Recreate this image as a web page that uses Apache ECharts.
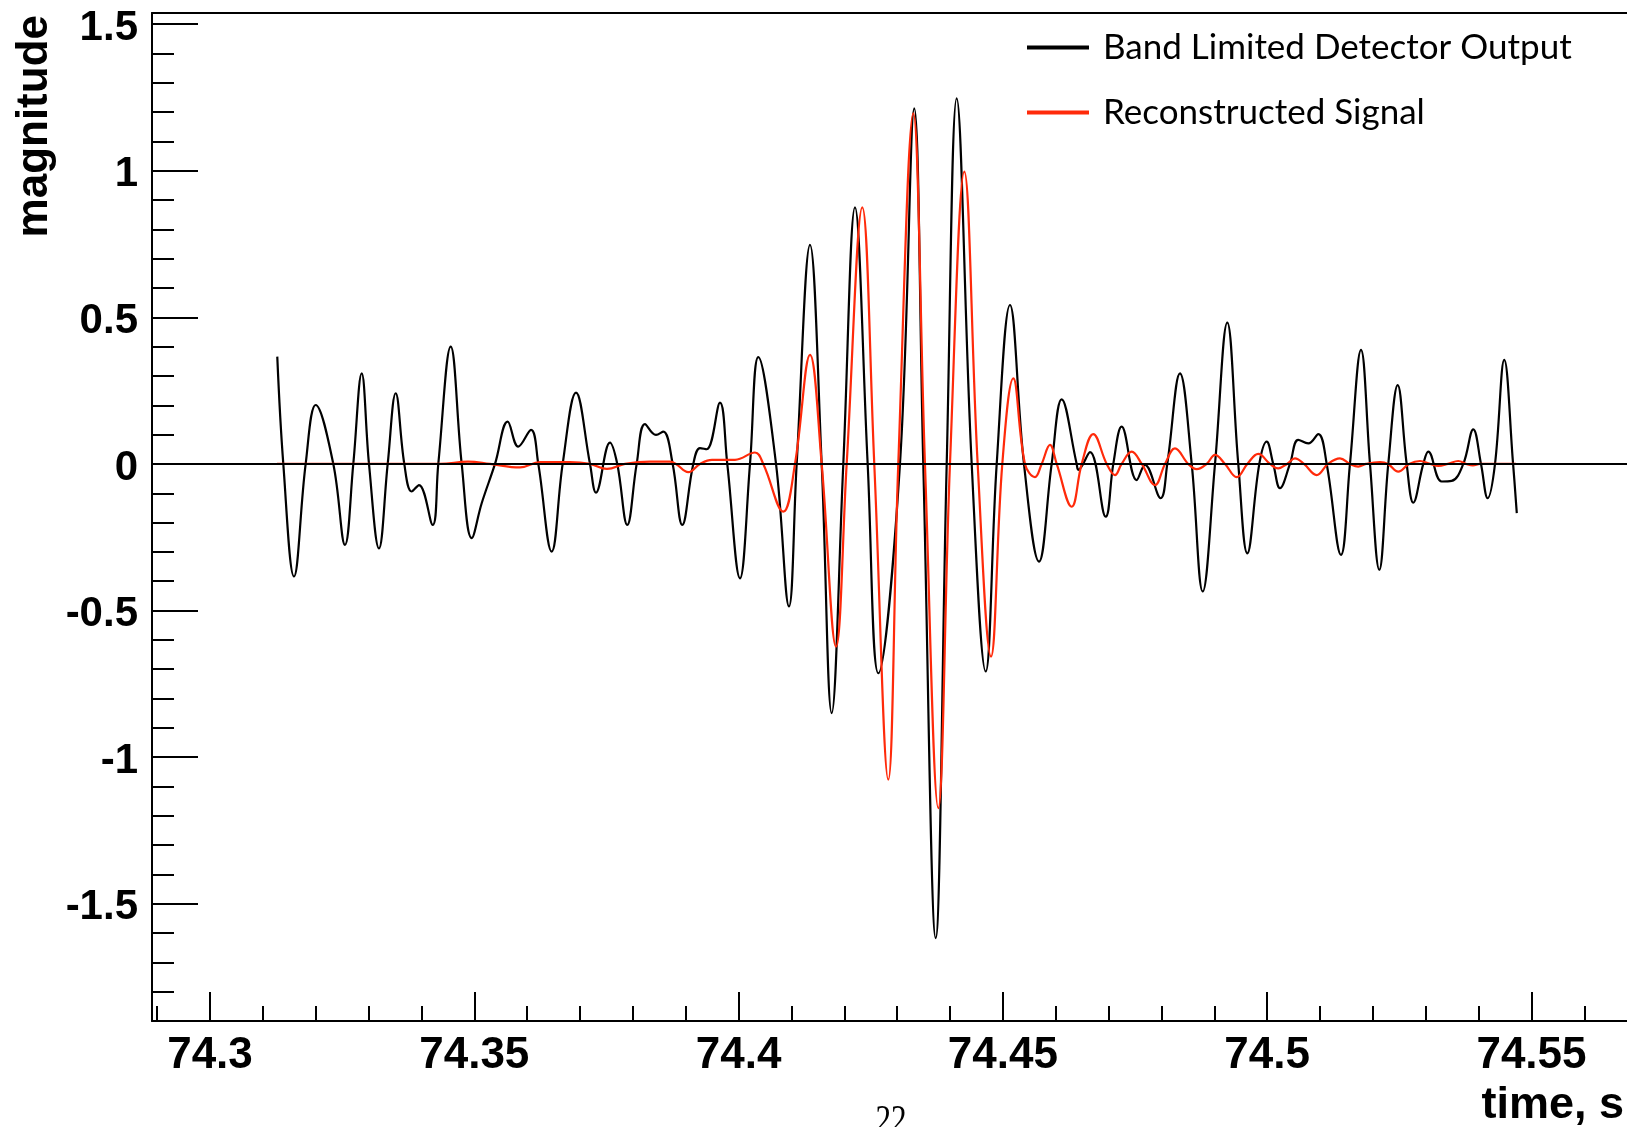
<!DOCTYPE html>
<html><head><meta charset="utf-8">
<script src="https://cdn.jsdelivr.net/npm/echarts@6/dist/echarts.min.js"></script>
<style>html,body{margin:0;padding:0;background:#fff}#c{width:1627px;height:1127px}</style>
</head><body><div id="c"></div>
<script>
// ---- data ----
const seriesNames = ['Band Limited Detector Output', 'Reconstructed Signal'];

const blackTime = [74.31273,74.31387,74.31589,74.31810,74.32000,74.32333,74.32554,74.32711,74.32870,74.33008,
 74.33197,74.33362,74.33513,74.33676,74.33816,74.33954,74.34213,74.34319,74.34554,74.34762,
 74.34951,74.35140,74.35392,74.35632,74.35832,74.36073,74.36211,74.36464,74.36672,74.36924,
 74.37189,74.37302,74.37567,74.37705,74.37894,74.38072,74.38229,74.38437,74.38576,74.38753,
 74.38935,74.39143,74.39270,74.39397,74.39648,74.39786,74.40026,74.40216,74.40373,74.40708,
 74.40953,74.41099,74.41351,74.41572,74.41761,74.41981,74.42202,74.42442,74.42643,74.43053,
 74.43324,74.43494,74.43729,74.43937,74.44126,74.44410,74.44675,74.44883,74.45134,74.45399,
 74.45683,74.45923,74.46112,74.46396,74.46426,74.46648,74.46945,74.47089,74.47247,74.47531,
 74.47688,74.47985,74.48110,74.48350,74.48572,74.48780,74.49013,74.49245,74.49453,74.49624,
 74.49851,74.49991,74.50115,74.50242,74.50431,74.50588,74.50778,74.50967,74.51126,74.51396,
 74.51566,74.51775,74.51945,74.52121,74.52291,74.52469,74.52639,74.52764,74.52953,74.53048,
 74.53301,74.53490,74.53710,74.53899,74.54045,74.54171,74.54310,74.54485,74.54652,74.54722];
const blackValue = [0.366,0,-0.384,0,0.201,0,-0.276,0,0.309,0,
 -0.288,0,0.241,0,-0.094,-0.072,-0.208,0,0.400,0,
 -0.253,-0.134,0,0.144,0.059,0.116,0,-0.299,0,0.243,
 0,-0.098,0.073,0,-0.208,0,0.136,0.099,0.110,0,
 -0.208,0,0.054,0.050,0.209,0,-0.390,0,0.364,0,
 -0.486,0,0.747,0,-0.850,0,0.875,0,-0.714,0,
 1.213,0,-1.617,0,1.247,0,-0.708,0,0.542,0,
 -0.333,0,0.220,0,-0.020,0.040,-0.180,0,0.127,-0.055,
 -0.003,-0.117,0,0.309,0,-0.435,0,0.482,0,-0.305,
 0,0.076,0,-0.083,0,0.082,0.070,0.102,0,-0.310,
 0,0.389,0,-0.361,0,0.269,0,-0.132,0,0.042,
 -0.060,-0.058,0,0.118,0,-0.117,0,0.355,0,-0.168];

const redTime = [74.31268,74.34351,74.34881,74.35297,74.35865,74.36243,74.36811,74.37189,74.37510,74.37851,
 74.38324,74.38702,74.38816,74.39048,74.39270,74.39497,74.39932,74.40310,74.40467,74.40846,
 74.41067,74.41351,74.41572,74.41843,74.42045,74.42340,74.42567,74.42832,74.43021,74.43305,
 74.43526,74.43778,74.43999,74.44270,74.44523,74.44775,74.44989,74.45197,74.45418,74.45607,
 74.45734,74.45891,74.46018,74.46302,74.46491,74.46710,74.46964,74.47121,74.47247,74.47437,
 74.47626,74.47877,74.48067,74.48256,74.48507,74.48666,74.48856,74.49013,74.49202,74.49423,
 74.49624,74.49832,74.50053,74.50210,74.50375,74.50526,74.50696,74.50936,74.51150,74.51377,
 74.51566,74.51723,74.51869,74.52134,74.52285,74.52480,74.52683,74.52891,74.53080,74.53237,
 74.53420,74.53615,74.53766,74.53893,74.54026,74.54707];
const redValue = [0,0,0.008,0,-0.012,0.006,0.006,0,-0.017,0,
 0.008,0.008,0,-0.028,0,0.014,0.014,0.039,0,-0.163,
 0,0.372,0,-0.623,0,0.875,0,-1.077,0,1.196,
 0,-1.174,0,0.997,0,-0.657,0,0.292,0,-0.045,
 0,0.065,0,-0.146,0,0.102,0,-0.038,0,0.042,
 0,-0.072,0,0.053,0,-0.018,0,0.031,0,-0.045,
 0,0.034,0,-0.015,0,0.019,0,-0.038,0,0.019,
 0,-0.009,0,0.006,0,-0.026,0,0.010,0,-0.007,
 0,0.010,0,-0.005,0,0];

// ---- axes ----
const xRange = [74.28903, 74.56807];
const yRange = [-1.9, 1.538];
const xMajorTicks = [74.3, 74.35, 74.4, 74.45, 74.5, 74.55];
const xMinorTicks = [74.29, 74.31, 74.32, 74.33, 74.34, 74.36, 74.37, 74.38, 74.39, 74.41, 74.42, 74.43, 74.44,
  74.46, 74.47, 74.48, 74.49, 74.51, 74.52, 74.53, 74.54, 74.56];
const yMajorTicks = [-1.5, -1, -0.5, 0, 0.5, 1, 1.5];
const yMinorTicks = [-1.8, -1.7, -1.6, -1.4, -1.3, -1.2, -1.1, -0.9, -0.8, -0.7, -0.6, -0.4, -0.3, -0.2, -0.1,
  0.1, 0.2, 0.3, 0.4, 0.6, 0.7, 0.8, 0.9, 1.1, 1.2, 1.3, 1.4];
const xTitle = 'time, s';
const yTitle = 'magnitude';
const pageNumber = '22';

const AX = '"Liberation Sans", Arial, Helvetica, sans-serif';
const chart = echarts.init(document.getElementById('c'), null, {renderer: 'canvas'});
const axisLineStyle = {color: '#000', width: 2};

chart.setOption({
  animation: false,
  backgroundColor: '#fff',
  grid: {left: 152, right: 0, top: 13, bottom: 106, containLabel: false},
  legend: {
    data: seriesNames, orient: 'vertical', left: 1027, top: 30, padding: 0,
    icon: 'rect', itemWidth: 62, itemHeight: 4, itemGap: 30, selectedMode: false,
    textStyle: {fontFamily: 'Lato, "Open Sans", sans-serif', fontSize: 35, color: '#000', lineHeight: 35, padding: [0, 0, 0, 9]}
  },
  xAxis: [
    {type: 'value', position: 'bottom', min: xRange[0], max: xRange[1],
      axisLine: {show: true, onZero: false, lineStyle: axisLineStyle},
      axisTick: {show: true, inside: true, length: 29, customValues: xMajorTicks, lineStyle: {color: '#000', width: 2}},
      axisLabel: {show: true, customValues: xMajorTicks, fontFamily: AX, fontWeight: 'bold', fontSize: 44, color: '#000', margin: 13},
      splitLine: {show: false}},
    {type: 'value', position: 'bottom', min: xRange[0], max: xRange[1],
      axisLine: {show: false, onZero: false},
      axisTick: {show: true, inside: true, length: 15, customValues: xMinorTicks, lineStyle: {color: '#000', width: 2}},
      axisLabel: {show: false}, splitLine: {show: false}},
    {type: 'value', position: 'top', min: xRange[0], max: xRange[1],
      axisLine: {show: true, onZero: false, lineStyle: axisLineStyle},
      axisTick: {show: false}, axisLabel: {show: false}, splitLine: {show: false}}
  ],
  yAxis: [
    {type: 'value', position: 'left', min: yRange[0], max: yRange[1],
      axisLine: {show: true, onZero: false, lineStyle: axisLineStyle},
      axisTick: {show: true, inside: true, length: 46, customValues: yMajorTicks, lineStyle: {color: '#000', width: 2}},
      axisLabel: {show: true, customValues: yMajorTicks, fontFamily: AX, fontWeight: 'bold', fontSize: 42, color: '#000', margin: 14,
        verticalAlign: 'top', lineHeight: 8},
      splitLine: {show: false}},
    {type: 'value', position: 'left', min: yRange[0], max: yRange[1],
      axisLine: {show: false, onZero: false},
      axisTick: {show: true, inside: true, length: 22, customValues: yMinorTicks, lineStyle: {color: '#000', width: 2}},
      axisLabel: {show: false}, splitLine: {show: false}}
  ],
  series: [
    {name: seriesNames[0], type: 'line', xAxisIndex: 0, yAxisIndex: 0,
      data: blackTime.map((t, i) => [t, blackValue[i]]),
      symbol: 'none', showSymbol: false, smooth: 0.4, z: 2,
      lineStyle: {color: '#000', width: 2.2}, itemStyle: {color: '#000'},
      markLine: {silent: true, symbol: ['none', 'none'], label: {show: false},
        lineStyle: {color: '#000', width: 2, type: 'solid'}, data: [{yAxis: 0}]}},
    {name: seriesNames[1], type: 'line', xAxisIndex: 0, yAxisIndex: 0,
      data: redTime.map((t, i) => [t, redValue[i]]),
      symbol: 'none', showSymbol: false, smooth: 0.4, z: 3,
      lineStyle: {color: '#ff2a0a', width: 2.2}, itemStyle: {color: '#ff2a0a'}}
  ],
  graphic: [
    {type: 'text', x: 35, y: 15, rotation: Math.PI / 2,
      style: {text: yTitle, font: 'bold 44px ' + AX, fill: '#000', align: 'right', verticalAlign: 'middle'}},
    {type: 'text', x: 1624, y: 1106,
      style: {text: xTitle, font: 'bold 45px ' + AX, fill: '#000', align: 'right', verticalAlign: 'middle'}},
    {type: 'text', x: 891, y: 1101, scaleX: 0.78,
      style: {text: pageNumber, font: '40px "Liberation Serif", "Times New Roman", serif', fill: '#000', align: 'center', verticalAlign: 'top'}}
  ]
});
</script>
</body></html>
